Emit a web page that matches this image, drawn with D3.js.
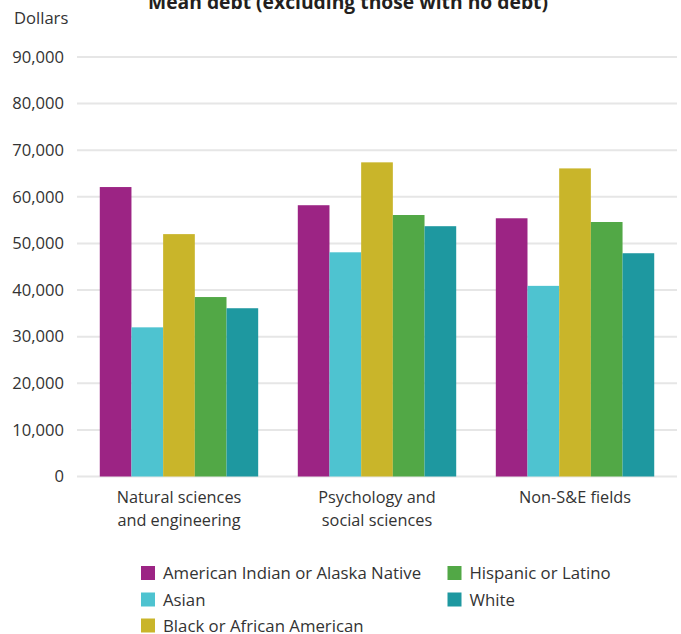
<!DOCTYPE html>
<html>
<head>
<meta charset="utf-8">
<script src="https://cdn.jsdelivr.net/npm/d3@7"></script>
<style>
  html, body { margin: 0; padding: 0; background: #fff; }
  svg { display: block; }
  text { font-family: "Open Sans", "Noto Sans", sans-serif; fill: #333; }
</style>
</head>
<body>
<svg id="chart" width="681" height="634"></svg>
<script>
const categories = [["Natural sciences", "and engineering"], ["Psychology and", "social sciences"], ["Non-S&E fields"]];
const categoryKeys = ["Natural sciences and engineering", "Psychology and social sciences", "Non-S&E fields"];
const seriesNames = ["American Indian or Alaska Native", "Asian", "Black or African American", "Hispanic or Latino", "White"];
const seriesColors = ["#9c2484", "#4ec3d0", "#c9b52a", "#52a846", "#1e98a0"];
const americanIndian = [62100, 58200, 55400];
const asian = [32000, 48100, 40900];
const black = [52000, 67400, 66100];
const hispanic = [38500, 56100, 54600];
const white = [36100, 53700, 47900];
const yTicks = [0, 10000, 20000, 30000, 40000, 50000, 60000, 70000, 80000, 90000];
const title = "Mean debt (excluding those with no debt)";
const yLabel = "Dollars";

const seriesValues = [americanIndian, asian, black, hispanic, white];

const svg = d3.select("#chart");
const plotLeft = 77, plotRight = 677, plotTop = 57, plotBottom = 476.5;

const x0 = d3.scaleBand().domain(categoryKeys).range([plotLeft, plotRight]).paddingInner(0.2).paddingOuter(0.115);
const x1 = d3.scaleBand().domain(seriesNames).range([0, x0.bandwidth()]).padding(0);
const y = d3.scaleLinear().domain([0, 90000]).range([plotBottom, plotTop]);

// gridlines
svg.append("g").selectAll("line").data(yTicks).join("line")
  .attr("x1", plotLeft).attr("x2", plotRight)
  .attr("y1", d => y(d)).attr("y2", d => y(d))
  .attr("stroke", "#e6e6e6").attr("stroke-width", 2);

// y tick labels
svg.append("g").selectAll("text").data(yTicks).join("text")
  .attr("x", 64).attr("y", d => y(d)).attr("dy", "0.35em")
  .attr("text-anchor", "end").attr("font-size", 16.6)
  .text(d => d3.format(",")(d));

// y axis label
svg.append("text").attr("x", 14).attr("y", 24).attr("font-size", 16.6).text(yLabel);

// title
svg.append("text").attr("x", 348).attr("y", 9).attr("text-anchor", "middle")
  .attr("font-size", 19.3).attr("font-weight", "bold").style("fill", "#231f20").text(title);

// bars
const groups = svg.append("g").selectAll("g").data(categoryKeys).join("g")
  .attr("transform", d => `translate(${x0(d)},0)`);
groups.selectAll("rect")
  .data((d, i) => seriesNames.map((s, j) => ({ s, j, v: seriesValues[j][i] })))
  .join("rect")
  .attr("x", d => x1(d.s))
  .attr("width", x1.bandwidth())
  .attr("y", d => y(d.v))
  .attr("height", d => y(0) - y(d.v))
  .attr("fill", d => seriesColors[d.j]);

// category labels
const catLabels = svg.append("g").selectAll("text").data(categoryKeys).join("text")
  .attr("text-anchor", "middle").attr("font-size", 16.3)
  .attr("x", d => x0(d) + x0.bandwidth() / 2).attr("y", 503);
catLabels.each(function(d, i) {
  const t = d3.select(this);
  categories[i].forEach((line, k) => {
    t.append("tspan").attr("x", x0(d) + x0.bandwidth() / 2).attr("dy", k === 0 ? 0 : 22.5).text(line);
  });
});

// legend
const legendPos = [
  [141, 566], [141, 592.5], [141, 618.5],
  [447.5, 566], [447.5, 592.5]
];
const legend = svg.append("g").selectAll("g").data(seriesNames).join("g")
  .attr("transform", (d, i) => `translate(${legendPos[i][0]},${legendPos[i][1]})`);
legend.append("rect").attr("width", 14).attr("height", 14).attr("fill", (d, i) => seriesColors[i]);
legend.append("text").attr("x", 22).attr("y", 13).attr("font-size", 16.8).text(d => d);
</script>
</body>
</html>
